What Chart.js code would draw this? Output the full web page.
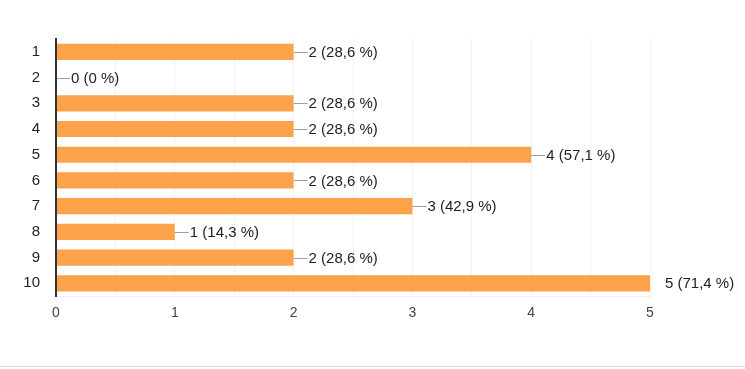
<!DOCTYPE html>
<html>
<head>
<meta charset="utf-8">
<script src="https://cdn.jsdelivr.net/npm/chart.js@4/dist/chart.umd.min.js"></script>
<style>
    html, body { margin: 0; padding: 0; background: #fff; }
    #wrap { width: 745px; height: 366px; border-bottom: 1px solid #dadce0; position: relative; }
    canvas { display: block; }
</style>
</head>
<body>
<div id="wrap"><canvas id="grafico" width="745" height="366"></canvas></div>
<script>
    const categorias = ['1', '2', '3', '4', '5', '6', '7', '8', '9', '10'];
    const respostas = [2, 0, 2, 2, 4, 2, 3, 1, 2, 5];
    const rotulos = ['2 (28,6 %)', '0 (0 %)', '2 (28,6 %)', '2 (28,6 %)', '4 (57,1 %)', '2 (28,6 %)', '3 (42,9 %)', '1 (14,3 %)', '2 (28,6 %)', '5 (71,4 %)'];
    const ticksX = [0, 1, 2, 3, 4, 5];

    const fonte = '"Liberation Sans", Arial, sans-serif';

    // rotulos com linha guia ao lado de cada barra
    const pluginRotulos = {
        id: 'rotulos',
        afterDatasetsDraw(chart) {
            const ctx = chart.ctx;
            const area = chart.chartArea;
            const meta = chart.getDatasetMeta(0);
            ctx.save();
            ctx.font = '15px ' + fonte;
            ctx.textBaseline = 'middle';
            meta.data.forEach((bar, i) => {
                const x = bar.x;
                const y = bar.y;
                const fim = Math.min(x + 14, area.right);
                if (fim > x) {
                    ctx.strokeStyle = '#9e9e9e';
                    ctx.lineWidth = 1;
                    ctx.beginPath();
                    ctx.moveTo(x, Math.round(y) + 0.5);
                    ctx.lineTo(fim, Math.round(y) + 0.5);
                    ctx.stroke();
                }
                ctx.fillStyle = '#222';
                ctx.fillText(rotulos[i], x + 15, y + 1);
            });
            ctx.restore();
        }
    };

    // borda do eixo esquerdo escura
    const pluginEixo = {
        id: 'eixo',
        afterDatasetsDraw(chart) {
            const ctx = chart.ctx;
            const a = chart.chartArea;
            ctx.save();
            ctx.strokeStyle = '#333';
            ctx.lineWidth = 2;
            ctx.beginPath();
            ctx.moveTo(a.left, a.top);
            ctx.lineTo(a.left, a.bottom);
            ctx.stroke();
            ctx.restore();
        }
    };

    new Chart(document.getElementById('grafico').getContext('2d'), {
        type: 'bar',
        data: {
            labels: categorias,
            datasets: [{
                data: respostas,
                backgroundColor: '#fba24b',
                borderWidth: 0,
                barPercentage: 0.63,
                categoryPercentage: 1
            }]
        },
        options: {
            indexAxis: 'y',
            responsive: false,
            animation: false,
            layout: { padding: { left: 0, right: 95, top: 39, bottom: 35 } },
            plugins: {
                legend: { display: false },
                tooltip: { enabled: false }
            },
            scales: {
                x: {
                    min: 0,
                    max: 5,
                    afterBuildTicks(axis) {
                        const t = [];
                        ticksX.forEach((v, i) => {
                            t.push({ value: v });
                            if (i < ticksX.length - 1) t.push({ value: v + 0.5 });
                        });
                        axis.ticks = t;
                    },
                    grid: { color: '#f2f2f2', drawTicks: false, lineWidth: 1 },
                    border: { color: '#eeeeee' },
                    ticks: {
                        padding: 9,
                        color: '#444',
                        font: { family: fonte, size: 14 },
                        callback: v => ticksX.includes(v) ? String(v) : ''
                    }
                },
                y: {
                    grid: { display: false, drawTicks: false },
                    border: { color: '#333', width: 2 },
                    afterFit(axis) { axis.width = 56; },
                    ticks: {
                        padding: 16,
                        color: '#222',
                        font: { family: fonte, size: 15 }
                    }
                }
            }
        },
        plugins: [pluginRotulos, pluginEixo]
    });
</script>
</body>
</html>
